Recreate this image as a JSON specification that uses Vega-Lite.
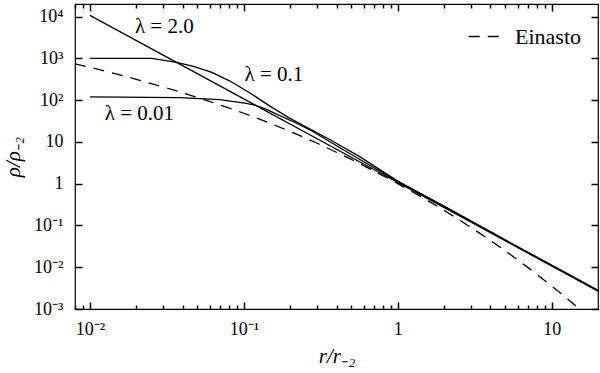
{
  "$schema": "https://vega.github.io/schema/vega-lite/v6.json",
  "width": 523,
  "height": 305,
  "autosize": {"type": "none"},
  "padding": {"left": 75, "top": 4, "right": 2, "bottom": 64},
  "background": "white",
  "config": {
    "view": {"stroke": "black", "strokeWidth": 1.2},
    "font": "Liberation Serif",
    "axis": {
      "domain": false,
      "tickColor": "black",
      "tickWidth": 1.5,
      "labelColor": "black",
      "titleColor": "black",
      "grid": false,
      "labelFont": "Liberation Serif",
      "titleFont": "Liberation Serif",
      "labelFontSize": 18,
      "titleFontSize": 21,
      "titleFontWeight": "normal",
      "labelOverlap": false,
      "labelFlush": false
    },
    "legend": {
      "labelFont": "Liberation Serif",
      "labelFontSize": 22,
      "labelColor": "black"
    }
  },
  "datasets": {
    "solid": [
      {"series": "l2", "r": 0.01, "rho": 10700},
      {"series": "l2", "r": 0.1, "rho": 107},
      {"series": "l2", "r": 1, "rho": 1.07},
      {"series": "l2", "r": 10, "rho": 0.0107},
      {"series": "l2", "r": 20, "rho": 0.00268},
      {"series": "l01", "r": 0.01, "rho": 1000},
      {"series": "l01", "r": 0.0252, "rho": 1000},
      {"series": "l01", "r": 0.0366, "rho": 800},
      {"series": "l01", "r": 0.047, "rho": 640},
      {"series": "l01", "r": 0.062, "rho": 460},
      {"series": "l01", "r": 0.0807, "rho": 290},
      {"series": "l01", "r": 0.109, "rho": 150},
      {"series": "l01", "r": 0.147, "rho": 73},
      {"series": "l01", "r": 0.198, "rho": 37},
      {"series": "l01", "r": 0.267, "rho": 20.7},
      {"series": "l01", "r": 0.359, "rho": 11.6},
      {"series": "l01", "r": 0.562, "rho": 4.5},
      {"series": "l01", "r": 1, "rho": 1.15},
      {"series": "l01", "r": 2.15, "rho": 0.25},
      {"series": "l01", "r": 5, "rho": 0.045},
      {"series": "l01", "r": 10, "rho": 0.0112},
      {"series": "l01", "r": 20, "rho": 0.0028},
      {"series": "l001", "r": 0.01, "rho": 120},
      {"series": "l001", "r": 0.0383, "rho": 115},
      {"series": "l001", "r": 0.0697, "rho": 103},
      {"series": "l001", "r": 0.104, "rho": 84},
      {"series": "l001", "r": 0.121, "rho": 74},
      {"series": "l001", "r": 0.14, "rho": 60},
      {"series": "l001", "r": 0.17, "rho": 43},
      {"series": "l001", "r": 0.22, "rho": 28},
      {"series": "l001", "r": 0.279, "rho": 18},
      {"series": "l001", "r": 0.376, "rho": 9.3},
      {"series": "l001", "r": 0.56, "rho": 3.9},
      {"series": "l001", "r": 1, "rho": 1.12},
      {"series": "l001", "r": 2.15, "rho": 0.245},
      {"series": "l001", "r": 5, "rho": 0.044},
      {"series": "l001", "r": 10, "rho": 0.011},
      {"series": "l001", "r": 20, "rho": 0.00275}
    ],
    "einasto": [
      {"model": "Einasto", "r": 0.008, "rho": 740},
      {"model": "Einasto", "r": 0.01, "rho": 610},
      {"model": "Einasto", "r": 0.015, "rho": 420},
      {"model": "Einasto", "r": 0.02, "rho": 315},
      {"model": "Einasto", "r": 0.03, "rho": 207},
      {"model": "Einasto", "r": 0.05, "rho": 116},
      {"model": "Einasto", "r": 0.07, "rho": 77},
      {"model": "Einasto", "r": 0.1, "rho": 48.5},
      {"model": "Einasto", "r": 0.15, "rho": 27.5},
      {"model": "Einasto", "r": 0.2, "rho": 17.8},
      {"model": "Einasto", "r": 0.3, "rho": 9.3},
      {"model": "Einasto", "r": 0.5, "rho": 3.8},
      {"model": "Einasto", "r": 0.7, "rho": 2.02},
      {"model": "Einasto", "r": 1, "rho": 1.0},
      {"model": "Einasto", "r": 1.5, "rho": 0.432},
      {"model": "Einasto", "r": 2, "rho": 0.23},
      {"model": "Einasto", "r": 3, "rho": 0.0892},
      {"model": "Einasto", "r": 4, "rho": 0.0438},
      {"model": "Einasto", "r": 5, "rho": 0.0247},
      {"model": "Einasto", "r": 7, "rho": 0.00992},
      {"model": "Einasto", "r": 10, "rho": 0.00357},
      {"model": "Einasto", "r": 12, "rho": 0.00206},
      {"model": "Einasto", "r": 14, "rho": 0.00128},
      {"model": "Einasto", "r": 16, "rho": 0.00084}
    ],
    "labels": [
      {"label": "λ = 2.0", "r": 0.0196, "rho": 5780},
      {"label": "λ = 0.1", "r": 0.101, "rho": 400},
      {"label": "λ = 0.01", "r": 0.0125, "rho": 46}
    ]
  },
  "layer": [
    {
      "data": {"name": "solid"},
      "mark": {"type": "line", "color": "black", "strokeWidth": 1.3, "clip": true},
      "encoding": {
        "x": {
          "field": "r", "type": "quantitative",
          "scale": {"type": "log", "domain": [0.008, 20], "nice": false},
          "axis": {
            "orient": "bottom",
            "title": "r/r₋₂",
            "titleFontStyle": "italic",
            "titlePadding": 4,
            "labelPadding": 18,
            "values": [0.008, 0.009, 0.01, 0.02, 0.03, 0.04, 0.05, 0.06, 0.07, 0.08, 0.09, 0.1, 0.2, 0.3, 0.4, 0.5, 0.6, 0.7, 0.8, 0.9, 1, 2, 3, 4, 5, 6, 7, 8, 9, 10],
            "labelExpr": "datum.value == 0.01 ? '10⁻²' : datum.value == 0.1 ? '10⁻¹' : datum.value == 1 ? '1' : datum.value == 10 ? '10' : ''",
            "tickSize": {"condition": {"test": "datum.value == 0.01 || datum.value == 0.1 || datum.value == 1 || datum.value == 10", "value": -7}, "value": -4}
          }
        },
        "y": {
          "field": "rho", "type": "quantitative",
          "scale": {"type": "log", "domain": [0.001, 20000], "nice": false},
          "axis": {
            "orient": "left",
            "title": "ρ/ρ₋₂",
            "titleFontStyle": "italic",
            "titlePadding": 10,
            "labelPadding": 19,
            "tickSize": -7,
            "values": [0.001, 0.01, 0.1, 1, 10, 100, 1000, 10000],
            "labelExpr": "datum.value == 0.001 ? '10⁻³' : datum.value == 0.01 ? '10⁻²' : datum.value == 0.1 ? '10⁻¹' : datum.value == 1 ? '1' : datum.value == 10 ? '10' : datum.value == 100 ? '10²' : datum.value == 1000 ? '10³' : '10⁴'"
          }
        },
        "detail": {"field": "series"}
      }
    },
    {
      "data": {"name": "einasto"},
      "mark": {"type": "line", "color": "black", "strokeWidth": 1.3, "clip": true},
      "encoding": {
        "x": {
          "field": "r", "type": "quantitative",
          "scale": {"type": "log", "domain": [0.008, 20], "nice": false},
          "axis": {
            "orient": "top",
            "title": null,
            "labels": false,
            "values": [0.008, 0.009, 0.01, 0.02, 0.03, 0.04, 0.05, 0.06, 0.07, 0.08, 0.09, 0.1, 0.2, 0.3, 0.4, 0.5, 0.6, 0.7, 0.8, 0.9, 1, 2, 3, 4, 5, 6, 7, 8, 9, 10],
            "tickSize": {"condition": {"test": "datum.value == 0.01 || datum.value == 0.1 || datum.value == 1 || datum.value == 10", "value": -7}, "value": -4}
          }
        },
        "y": {
          "field": "rho", "type": "quantitative",
          "scale": {"type": "log", "domain": [0.001, 20000], "nice": false},
          "axis": {
            "orient": "right",
            "title": null,
            "labels": false,
            "tickSize": -7,
            "values": [0.001, 0.01, 0.1, 1, 10, 100, 1000, 10000]
          }
        },
        "strokeDash": {
          "field": "model", "type": "nominal",
          "scale": {"domain": ["Einasto"], "range": [[11, 8]]},
          "legend": {
            "orient": "none",
            "legendX": 393,
            "legendY": 16,
            "title": null,
            "padding": 0,
            "symbolType": "stroke",
            "symbolSize": 1000,
            "symbolStrokeColor": "black",
            "symbolStrokeWidth": 1.3,
            "labelOffset": 14
          }
        }
      }
    },
    {
      "data": {"name": "labels"},
      "mark": {"type": "text", "align": "left", "baseline": "middle", "fontSize": 21, "font": "Liberation Serif", "color": "black"},
      "encoding": {
        "x": {"field": "r", "type": "quantitative", "scale": {"type": "log", "domain": [0.008, 20], "nice": false}, "axis": null},
        "y": {"field": "rho", "type": "quantitative", "scale": {"type": "log", "domain": [0.001, 20000], "nice": false}, "axis": null},
        "text": {"field": "label"}
      }
    }
  ],
  "resolve": {"axis": {"x": "independent", "y": "independent"}}
}
